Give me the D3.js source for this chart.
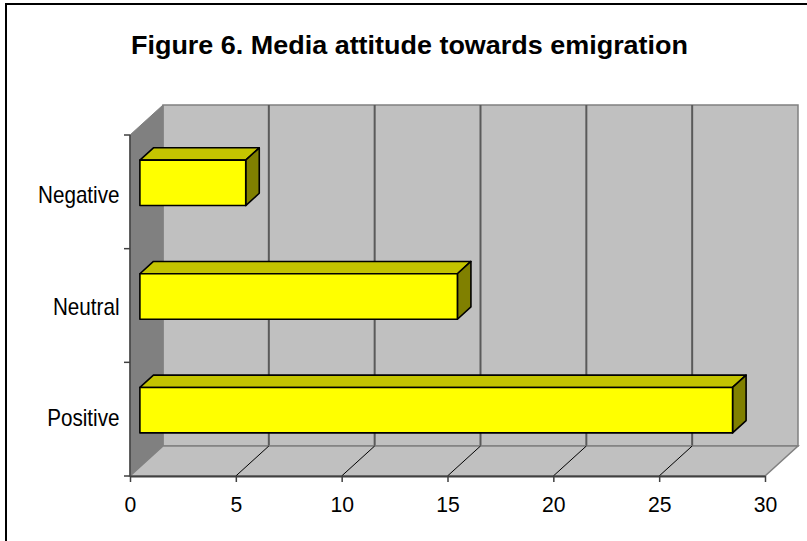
<!DOCTYPE html>
<html>
<head>
<meta charset="utf-8">
<script src="https://cdn.jsdelivr.net/npm/d3@7"></script>
<style>
  html, body { margin: 0; padding: 0; background: #ffffff; }
  svg { display: block; }
  text { font-family: "Liberation Sans", Arial, sans-serif; fill: #000; }
</style>
</head>
<body>
<svg id="chart" width="807" height="541"></svg>
<script>
// Media attitude counts per category
const categories = ["Negative", "Neutral", "Positive"];
const values = [5, 15, 28];
const xTicks = [0, 5, 10, 15, 20, 25, 30];
const titleText = "Figure 6. Media attitude towards emigration";

const svg = d3.select("#chart");

// Front plane of the 3-D plot area and its depth offset
const plotLeft = 130, plotRight = 765, plotTop = 135, plotBottom = 476;
const depthX = 33, depthY = -30;
const barFront = 0.3, barBack = 0.71;   // bar depth as fractions of the box depth

const x = d3.scaleLinear().domain([0, 30]).range([plotLeft, plotRight]);
const y = d3.scaleBand().domain(categories).range([plotTop, plotBottom])
  .paddingInner(0.6).paddingOuter(0.3);
const yEdges = d3.scaleLinear().domain([0, categories.length]).range([plotTop, plotBottom]);
// vertical centres of the category labels
const yLabel = d3.scalePoint().domain(categories).range([194.6, 417.2]);

// Outer frame
svg.append("rect").attr("x", 6).attr("y", 4).attr("width", 900).attr("height", 600)
  .attr("fill", "none").attr("stroke", "#000").attr("stroke-width", 2);

// Title
svg.append("text").attr("x", 409.5).attr("y", 53.5).attr("text-anchor", "middle")
  .attr("font-size", 26.5).attr("font-weight", "bold")
  .attr("textLength", 557).attr("lengthAdjust", "spacingAndGlyphs")
  .text(titleText);

const wall = svg.append("g");
const x0 = x(0), x30 = x(30);

// Back wall
wall.append("rect")
  .attr("x", x0 + depthX).attr("y", plotTop + depthY)
  .attr("width", x30 - x0).attr("height", plotBottom - plotTop)
  .attr("fill", "#c0c0c0").attr("stroke", "#808080").attr("stroke-width", 1.5);

// Side wall
wall.append("polygon")
  .attr("points", [[x0, plotTop], [x0 + depthX, plotTop + depthY], [x0 + depthX, plotBottom + depthY], [x0, plotBottom]].join(" "))
  .attr("fill", "#808080").attr("stroke", "#808080").attr("stroke-width", 1);

// Back-wall gridlines
wall.selectAll("line.grid").data(xTicks.slice(1, -1)).join("line")
  .attr("class", "grid")
  .attr("x1", d => x(d) + depthX).attr("x2", d => x(d) + depthX)
  .attr("y1", plotTop + depthY).attr("y2", plotBottom + depthY)
  .attr("stroke", "#5a5a5a").attr("stroke-width", 2);

// Floor
wall.append("polygon")
  .attr("points", [[x0, plotBottom], [x0 + depthX, plotBottom + depthY], [x30 + depthX, plotBottom + depthY], [x30, plotBottom]].join(" "))
  .attr("fill", "#c0c0c0").attr("stroke", "#808080").attr("stroke-width", 1.5);

// Floor gridlines
wall.selectAll("line.floor").data(xTicks.slice(1, -1)).join("line")
  .attr("class", "floor")
  .attr("x1", d => x(d)).attr("x2", d => x(d) + depthX)
  .attr("y1", plotBottom).attr("y2", plotBottom + depthY)
  .attr("stroke", "#000").attr("stroke-width", 1);

// Y axis (category) line and ticks
svg.append("line").attr("x1", x0).attr("x2", x0).attr("y1", plotTop).attr("y2", plotBottom)
  .attr("stroke", "#404040").attr("stroke-width", 1.5);
svg.selectAll("line.ytick").data(d3.range(categories.length + 1)).join("line")
  .attr("class", "ytick")
  .attr("x1", x0 - 6).attr("x2", x0)
  .attr("y1", d => yEdges(d)).attr("y2", d => yEdges(d))
  .attr("stroke", "#404040").attr("stroke-width", 1.5);

// X axis
const xAxis = d3.axisBottom(x).tickValues(xTicks).tickFormat(d3.format("d"))
  .tickSize(6).tickPadding(14).tickSizeOuter(0);
const gx = svg.append("g").attr("transform", `translate(0,${plotBottom})`).call(xAxis);
gx.select(".domain").attr("stroke", "#404040").attr("stroke-width", 2);
gx.selectAll(".tick line").attr("stroke", "#404040").attr("stroke-width", 1.5);
gx.selectAll(".tick text").attr("font-size", 22.5)
  .attr("font-family", "'Liberation Sans', Arial, sans-serif").attr("fill", "#000")
  .each(function () {
    const w = this.getComputedTextLength();
    d3.select(this).attr("textLength", w * 0.94).attr("lengthAdjust", "spacingAndGlyphs");
  });

// Category labels
const yLabels = svg.selectAll("text.ylab").data(categories).join("text")
  .attr("class", "ylab")
  .attr("x", 119.5)
  .attr("y", d => yLabel(d))
  .attr("dy", "0.36em")
  .attr("text-anchor", "end")
  .attr("font-size", 24)
  .text(d => d);
yLabels.each(function () {
  const w = this.getComputedTextLength();
  d3.select(this).attr("textLength", w * 0.86).attr("lengthAdjust", "spacingAndGlyphs");
});

// 3-D bars
const fdx = depthX * barFront, fdy = depthY * barFront;
const bdx = depthX * (barBack - barFront), bdy = depthY * (barBack - barFront);
const bars = svg.selectAll("g.bar").data(categories.map((c, i) => ({ c, v: values[i] })))
  .join("g").attr("class", "bar");

bars.each(function (d) {
  const g = d3.select(this);
  const xl = x(0) + fdx, xr = x(d.v) + fdx;
  const yt = y(d.c) + fdy, yb = y(d.c) + y.bandwidth() + fdy;
  const stroke = { stroke: "#000", "stroke-width": 1.6, "stroke-linejoin": "round" };
  // top face
  const topFace = g.append("polygon")
    .attr("points", [[xl, yt], [xl + bdx, yt + bdy], [xr + bdx, yt + bdy], [xr, yt]].join(" "))
    .attr("fill", "#c4c400");
  // right end face
  const sideFace = g.append("polygon")
    .attr("points", [[xr, yt], [xr + bdx, yt + bdy], [xr + bdx, yb + bdy], [xr, yb]].join(" "))
    .attr("fill", "#808000");
  // front face
  const frontFace = g.append("rect")
    .attr("x", xl).attr("y", yt).attr("width", xr - xl).attr("height", yb - yt)
    .attr("fill", "#ffff00");
  [topFace, sideFace, frontFace].forEach(s => Object.entries(stroke).forEach(([k, v]) => s.attr(k, v)));
});
</script>
</body>
</html>
